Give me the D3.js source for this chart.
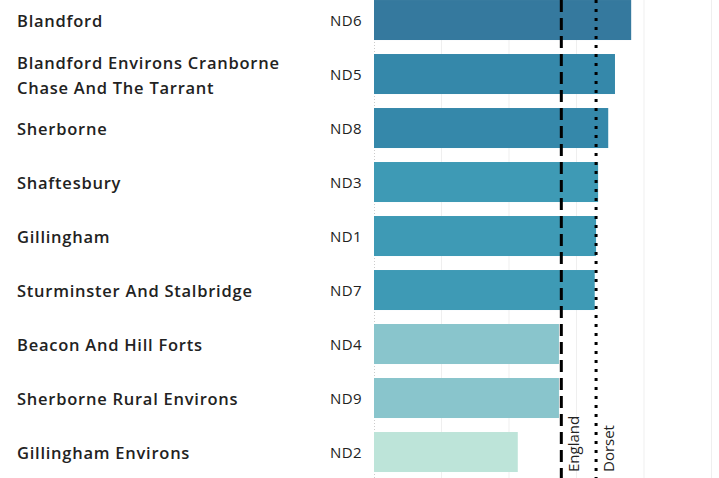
<!DOCTYPE html>
<html>
<head>
<meta charset="utf-8">
<script src="https://cdn.jsdelivr.net/npm/d3@7"></script>
<style>
  body { margin: 0; background: #fff; }
  text { font-family: "Open Sans", sans-serif; }
</style>
</head>
<body>
<div id="chart"></div>
<script>
// data
var areas = ['Blandford', 'Blandford Environs Cranborne|Chase And The Tarrant', 'Sherborne',
             'Shaftesbury', 'Gillingham', 'Sturminster And Stalbridge',
             'Beacon And Hill Forts', 'Sherborne Rural Environs', 'Gillingham Environs'];
var codes = ['ND6', 'ND5', 'ND8', 'ND3', 'ND1', 'ND7', 'ND4', 'ND9', 'ND2'];
var values = [38.1, 35.7, 34.7, 33.2, 32.9, 32.7, 27.4, 27.4, 21.3];
var band_colors = ['#35799e', '#3588aa', '#3588aa', '#3e9ab5', '#3e9ab5', '#3e9ab5', '#89c5cc', '#89c5cc', '#bde4d9'];
var ref_names = ['England', 'Dorset'];
var ref_values = [27.75, 32.9];
var grid_ticks = [0, 10, 20, 30, 40, 50];

var width = 719, height = 478;
var text_color = '#222';

var svg = d3.select('#chart').append('svg')
    .attr('width', width).attr('height', height);

var x = d3.scaleLinear().domain([0, 50]).range([374, 711.5]);
var y = d3.scaleBand().domain(codes).range([0, 54 * codes.length]).paddingInner(0.26).paddingOuter(0.13);

// gridlines
svg.append('g').selectAll('line').data(grid_ticks.slice(1)).enter().append('line')
    .attr('x1', function(d) { return x(d); }).attr('x2', function(d) { return x(d); })
    .attr('y1', 0).attr('y2', height)
    .attr('stroke', '#efefef').attr('stroke-width', 1);

// zero line
svg.append('line')
    .attr('x1', x(0) + 0.5).attr('x2', x(0) + 0.5).attr('y1', 0).attr('y2', height)
    .attr('stroke', '#ccc').attr('stroke-width', 1).attr('stroke-dasharray', '1,2');

// bars
svg.append('g').selectAll('rect').data(codes).enter().append('rect')
    .attr('x', x(0))
    .attr('y', function(d) { return y(d) - 7; })
    .attr('width', function(d, i) { return x(values[i]) - x(0); })
    .attr('height', 40)
    .attr('fill', function(d, i) { return band_colors[i]; });

// row labels
var rows = svg.append('g').selectAll('g').data(codes).enter().append('g')
    .attr('transform', function(d) { return 'translate(0,' + (y(d) - 7 + 20) + ')'; });

rows.each(function(d, i) {
    var g = d3.select(this);
    var lines = areas[i].split('|');
    var t = g.append('text')
        .attr('x', 17)
        .attr('fill', text_color)
        .attr('font-size', 16.5)
        .attr('font-weight', 600)
        .attr('letter-spacing', 0.75)
        .attr('dominant-baseline', 'central');
    lines.forEach(function(l, j) {
        t.append('tspan').attr('x', 17)
            .attr('y', (j - (lines.length - 1) / 2) * 25)
            .text(l);
    });
    g.append('text')
        .attr('x', 362)
        .attr('text-anchor', 'end')
        .attr('dominant-baseline', 'central')
        .attr('fill', text_color)
        .attr('font-size', 15)
        .attr('font-weight', 500)
        .attr('letter-spacing', 0.4)
        .text(codes[i]);
});

// reference lines
var ref = svg.append('g');
ref.selectAll('line').data(ref_values).enter().append('line')
    .attr('x1', function(d) { return x(d); }).attr('x2', function(d) { return x(d); })
    .attr('y1', 0).attr('y2', height)
    .attr('stroke', '#000')
    .attr('stroke-width', 3)
    .attr('stroke-dasharray', function(d, i) { return i === 0 ? '12,6' : '3,6'; });

ref.selectAll('text').data(ref_values).enter().append('text')
    .attr('transform', function(d) { return 'translate(' + (x(d) + 18) + ',472) rotate(-90)'; })
    .attr('fill', text_color)
    .attr('font-size', 15)
    .text(function(d, i) { return ref_names[i]; });
</script>
</body>
</html>
